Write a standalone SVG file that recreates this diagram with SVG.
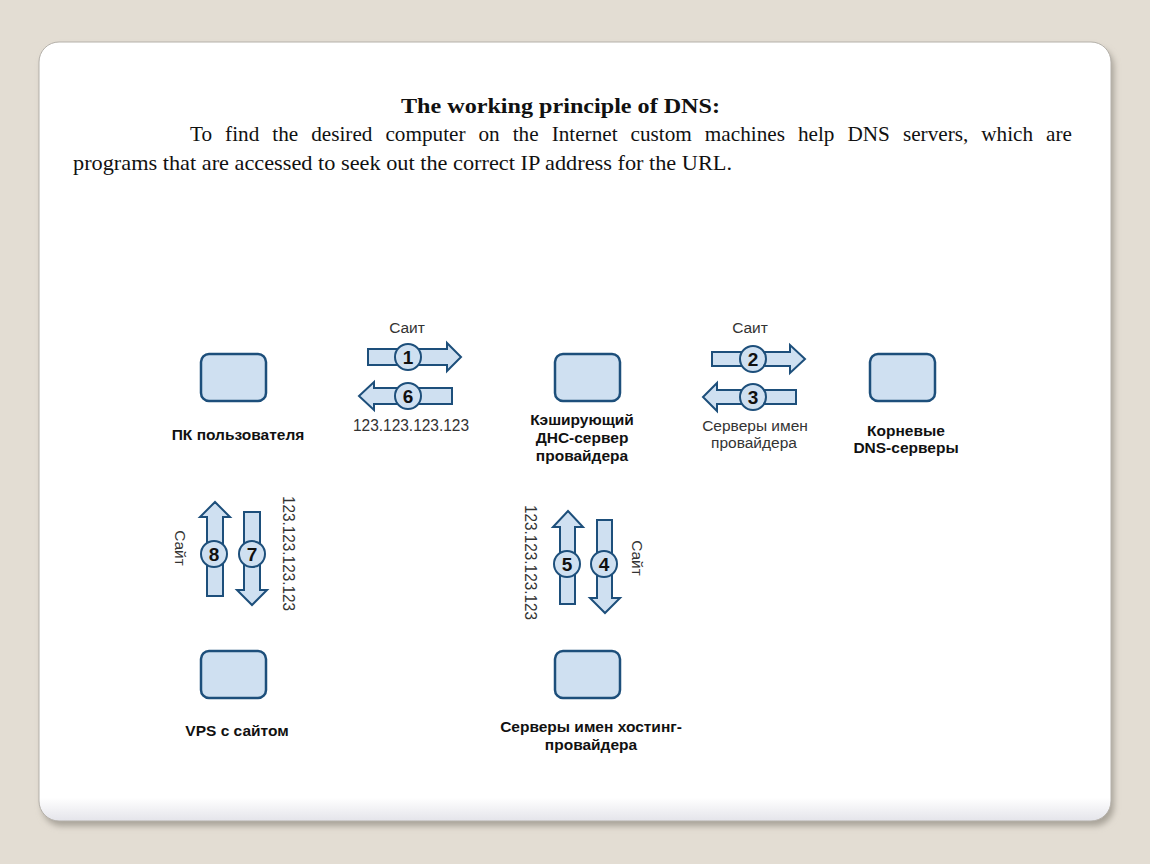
<svg xmlns="http://www.w3.org/2000/svg" width="1150" height="864" viewBox="0 0 1150 864">
<defs>
<filter id="sh" x="-5%" y="-5%" width="110%" height="110%">
<feGaussianBlur stdDeviation="3"/>
</filter>
<linearGradient id="cardg" x1="0" y1="0" x2="0" y2="1">
<stop offset="0.97" stop-color="#ffffff"/>
<stop offset="1" stop-color="#e4e4ea"/>
</linearGradient>
</defs>
<style>
.node{fill:#cfe0f1;stroke:#1d4f7b;stroke-width:2.5}
.arr{fill:#cfe0f1;stroke:#1d4f7b;stroke-width:2;stroke-linejoin:miter}
.badge{fill:#cfe0f1;stroke:#1d4f7b;stroke-width:2}
.num{font-family:"Liberation Sans",Arial,sans-serif;font-size:19px;font-weight:bold;fill:#111;text-anchor:middle}
.lbl{font-family:"Liberation Sans",Arial,sans-serif;font-size:15.5px;font-weight:bold;fill:#111;text-anchor:middle}
.cap{font-family:"Liberation Sans",Arial,sans-serif;font-size:15.5px;fill:#333;text-anchor:middle}
.ip{font-family:"Liberation Sans",Arial,sans-serif;font-size:16px;fill:#333}
.body{font-family:"Liberation Serif","Times New Roman",serif;font-size:22px;fill:#111}
</style>
<rect width="1150" height="864" fill="#e3ddd3"/>
<rect x="42" y="47" width="1072" height="779" rx="20" fill="#a8a399" filter="url(#sh)"/>
<rect x="39" y="42" width="1072" height="779" rx="20" fill="url(#cardg)" stroke="#b5b1aa" stroke-width="1"/>

<text x="401" y="113" class="body" font-weight="bold" font-size="21" textLength="319" lengthAdjust="spacingAndGlyphs">The working principle of DNS:</text>
<text x="190" y="141" class="body" word-spacing="8" textLength="882" lengthAdjust="spacingAndGlyphs">To find the desired computer on the Internet custom machines help DNS servers, which are</text>
<text x="73" y="170" class="body" textLength="659" lengthAdjust="spacingAndGlyphs">programs that are accessed to seek out the correct IP address for the URL.</text>

<g id="connectors">
<!-- 1 right -->
<path class="arr" d="M368,349 H447 V343 L461,357 L447,371 V365 H368 Z"/>
<circle class="badge" cx="408" cy="357" r="13"/><text class="num" x="408" y="364">1</text>
<!-- 6 left -->
<path class="arr" d="M452,388 H374 V382 L359,396 L374,410 V404 H452 Z"/>
<circle class="badge" cx="408" cy="396" r="13"/><text class="num" x="408" y="403">6</text>
<!-- 2 right -->
<path class="arr" d="M712,352 H790 V345 L805,359 L790,373 V366 H712 Z"/>
<circle class="badge" cx="753" cy="359" r="13"/><text class="num" x="753" y="366">2</text>
<!-- 3 left -->
<path class="arr" d="M796,390 H717 V383 L703,397 L717,411 V404 H796 Z"/>
<circle class="badge" cx="753" cy="397" r="13"/><text class="num" x="753" y="404">3</text>
<!-- 8 up -->
<path class="arr" d="M207,596 V517 H200 L215,502 L230,517 H223 V596 Z"/>
<circle class="badge" cx="214" cy="554" r="13"/><text class="num" x="214" y="561">8</text>
<!-- 7 down -->
<path class="arr" d="M244,512 V590 H237 L252,605 L267,590 H260 V512 Z"/>
<circle class="badge" cx="252" cy="554" r="13"/><text class="num" x="252" y="561">7</text>
<!-- 5 up -->
<path class="arr" d="M560,604 V527 H553 L568,511 L583,527 H575 V604 Z"/>
<circle class="badge" cx="567" cy="564" r="13"/><text class="num" x="567" y="571">5</text>
<!-- 4 down -->
<path class="arr" d="M597,520 V598 H590 L605,613 L620,598 H612 V520 Z"/>
<circle class="badge" cx="604" cy="564" r="13"/><text class="num" x="604" y="571">4</text>

<text class="cap" x="407" y="333">Саит</text>
<text class="cap" x="750" y="333">Саит</text>
<text class="ip" x="353" y="431" textLength="116" lengthAdjust="spacingAndGlyphs">123.123.123.123</text>
<text class="cap" x="755" y="431">Серверы имен</text>
<text class="cap" x="754" y="448">провайдера</text>
<text class="ip" transform="translate(283,496) rotate(90)" textLength="115" lengthAdjust="spacingAndGlyphs">123.123.123.123</text>
<text class="ip" transform="translate(525,505) rotate(90)" textLength="115" lengthAdjust="spacingAndGlyphs">123.123.123.123</text>
<text class="cap" transform="translate(175,548) rotate(90)">Сайт</text>
<text class="cap" transform="translate(632,558) rotate(90)">Сайт</text>
</g>

<g id="node-pc">
<rect class="node" x="201" y="354" width="65" height="47" rx="8"/>
<text class="lbl" x="238" y="440">ПК пользователя</text>
</g>
<g id="node-cache">
<rect class="node" x="555" y="354" width="65" height="47" rx="8"/>
<text class="lbl" x="582" y="425">Кэширующий</text>
<text class="lbl" x="582" y="443">ДНС-сервер</text>
<text class="lbl" x="582" y="461">провайдера</text>
</g>
<g id="node-root">
<rect class="node" x="870" y="354" width="65" height="47" rx="8"/>
<text class="lbl" x="906" y="436">Корневые</text>
<text class="lbl" x="906" y="453">DNS-серверы</text>
</g>
<g id="node-vps">
<rect class="node" x="201" y="651" width="65" height="47" rx="8"/>
<text class="lbl" x="237" y="736">VPS с сайтом</text>
</g>
<g id="node-hosting">
<rect class="node" x="555" y="651" width="65" height="47" rx="8"/>
<text class="lbl" x="591" y="732">Серверы имен хостинг-</text>
<text class="lbl" x="591" y="750">провайдера</text>
</g>
</svg>
